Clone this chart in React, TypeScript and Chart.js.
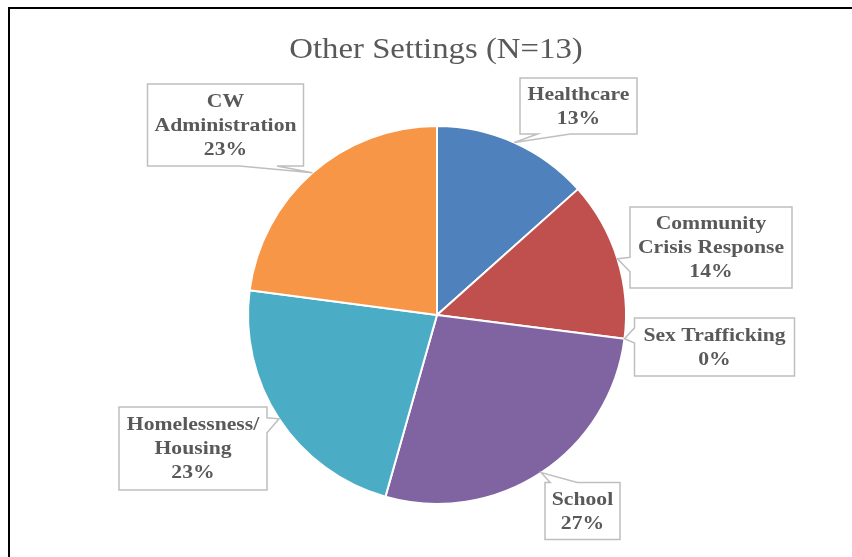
import React, { useEffect, useRef } from "react";
import { Chart, registerables } from "chart.js";

Chart.register(...registerables);

const TITLE = "Other Settings (N=13)";
const categories = [
  "Healthcare",
  "Community Crisis Response",
  "Sex Trafficking",
  "School",
  "Homelessness/Housing",
  "CW Administration",
];
const labelLines = [
  ["Healthcare"],
  ["Community", "Crisis Response"],
  ["Sex Trafficking"],
  ["School"],
  ["Homelessness/", "Housing"],
  ["CW", "Administration"],
];
const values = [13.4, 13.6, 0, 27.4, 22.7, 22.9];
const colors = ["#4F81BD", "#C0504D", "#9BBB59", "#8064A2", "#4BACC6", "#F79646"];

// Callout box layout: box centre offset from the pie centre (px), box size, side of the pointer, base span (fraction of edge)
const boxLayout = [
  { dx: 141.5, dy: -209, w: 117, h: 56, side: "bottom", base: [0.15, 0.43] },
  { dx: 274, dy: -67.5, w: 162, h: 81, side: "left", base: [0.62, 0.8] },
  { dx: 277.5, dy: 32, w: 160, h: 58, side: "left", base: [0.17, 0.43] },
  { dx: 145.5, dy: 196, w: 75, h: 57, side: "top", base: [0.07, 0.43] },
  { dx: -244, dy: 133.5, w: 148, h: 83, side: "right", base: [0.13, 0.31] },
  { dx: -211.5, dy: -190, w: 156, h: 82, side: "bottom", base: [0.59, 0.83] },
];

const TEXT_COLOR = "#595959";
const LABEL_FONT = 'bold 19px "Liberation Serif", "Times New Roman", serif';
const LABEL_SCALE_X = 1.14;
const LINE_H = 24;

const calloutPlugin = {
  id: "callouts",
  beforeDraw(chart: any) {
    const ctx = chart.ctx;
    ctx.save();
    ctx.fillStyle = "#ffffff";
    ctx.fillRect(0, 0, chart.width, chart.height);
    // frame (left and top edges visible)
    ctx.strokeStyle = "#000000";
    ctx.lineWidth = 2;
    ctx.beginPath();
    ctx.moveTo(9, chart.height);
    ctx.lineTo(9, 8);
    ctx.lineTo(chart.width, 8);
    ctx.stroke();
    // title
    ctx.fillStyle = TEXT_COLOR;
    ctx.font = '29px "Liberation Serif", "Times New Roman", serif';
    ctx.textAlign = "center";
    ctx.textBaseline = "alphabetic";
    ctx.translate(436, 58);
    ctx.scale(1.13, 1);
    ctx.fillText(TITLE, 0, 0);
    ctx.restore();
  },
  afterDraw(chart: any) {
    const ctx = chart.ctx;
    const meta = chart.getDatasetMeta(0);
    meta.data.forEach((arc: any, i: number) => {
      const p = arc.getProps(["x", "y", "startAngle", "endAngle", "outerRadius"], true);
      const mid = (p.startAngle + p.endAngle) / 2;
      const tx = p.x + Math.cos(mid) * p.outerRadius;
      const ty = p.y + Math.sin(mid) * p.outerRadius;
      const L = boxLayout[i];
      const bx = p.x + L.dx - L.w / 2;
      const by = p.y + L.dy - L.h / 2;
      const r = bx + L.w;
      const b = by + L.h;
      ctx.save();
      ctx.beginPath();
      ctx.moveTo(bx, by);
      if (L.side === "top") {
        ctx.lineTo(bx + L.w * L.base[0], by);
        ctx.lineTo(tx, ty);
        ctx.lineTo(bx + L.w * L.base[1], by);
      }
      ctx.lineTo(r, by);
      if (L.side === "right") {
        ctx.lineTo(r, by + L.h * L.base[0]);
        ctx.lineTo(tx, ty);
        ctx.lineTo(r, by + L.h * L.base[1]);
      }
      ctx.lineTo(r, b);
      if (L.side === "bottom") {
        ctx.lineTo(bx + L.w * L.base[1], b);
        ctx.lineTo(tx, ty);
        ctx.lineTo(bx + L.w * L.base[0], b);
      }
      ctx.lineTo(bx, b);
      if (L.side === "left") {
        ctx.lineTo(bx, by + L.h * L.base[1]);
        ctx.lineTo(tx, ty);
        ctx.lineTo(bx, by + L.h * L.base[0]);
      }
      ctx.closePath();
      ctx.fillStyle = "#ffffff";
      ctx.fill();
      ctx.strokeStyle = "#BFBFBF";
      ctx.lineWidth = 1.5;
      ctx.lineJoin = "miter";
      ctx.stroke();

      const lines = [...labelLines[i], Math.round(values[i]) + "%"];
      ctx.fillStyle = TEXT_COLOR;
      ctx.font = LABEL_FONT;
      ctx.textAlign = "center";
      ctx.textBaseline = "middle";
      const cx = bx + L.w / 2;
      const cy = by + L.h / 2;
      const startY = cy - ((lines.length - 1) * LINE_H) / 2;
      lines.forEach((line, k) => {
        ctx.save();
        ctx.translate(cx, startY + k * LINE_H + 1);
        ctx.scale(LABEL_SCALE_X, 1);
        ctx.fillText(line, 0, 0);
        ctx.restore();
      });
      ctx.restore();
    });
  },
};

export default function App() {
  const ref = useRef<HTMLCanvasElement | null>(null);
  useEffect(() => {
    if (!ref.current) return;
    const chart = new Chart(ref.current, {
      type: "pie",
      data: {
        labels: categories,
        datasets: [
          {
            data: values,
            backgroundColor: colors,
            borderColor: "#ffffff",
            borderWidth: 2,
          },
        ],
      },
      options: {
        responsive: false,
        animation: false,
        devicePixelRatio: 1,
        layout: { padding: { left: 247, right: 225, top: 125, bottom: 52 } },
        plugins: {
          legend: { display: false },
          title: { display: false },
          tooltip: { enabled: false },
        },
      },
      plugins: [calloutPlugin],
    } as any);
    return () => chart.destroy();
  }, []);
  return (
    <div style={{ position: "fixed", left: 0, top: 0, width: 852, height: 557, background: "#fff" }}>
      <canvas ref={ref} width={852} height={557} style={{ width: 852, height: 557, display: "block" }} />
    </div>
  );
}
